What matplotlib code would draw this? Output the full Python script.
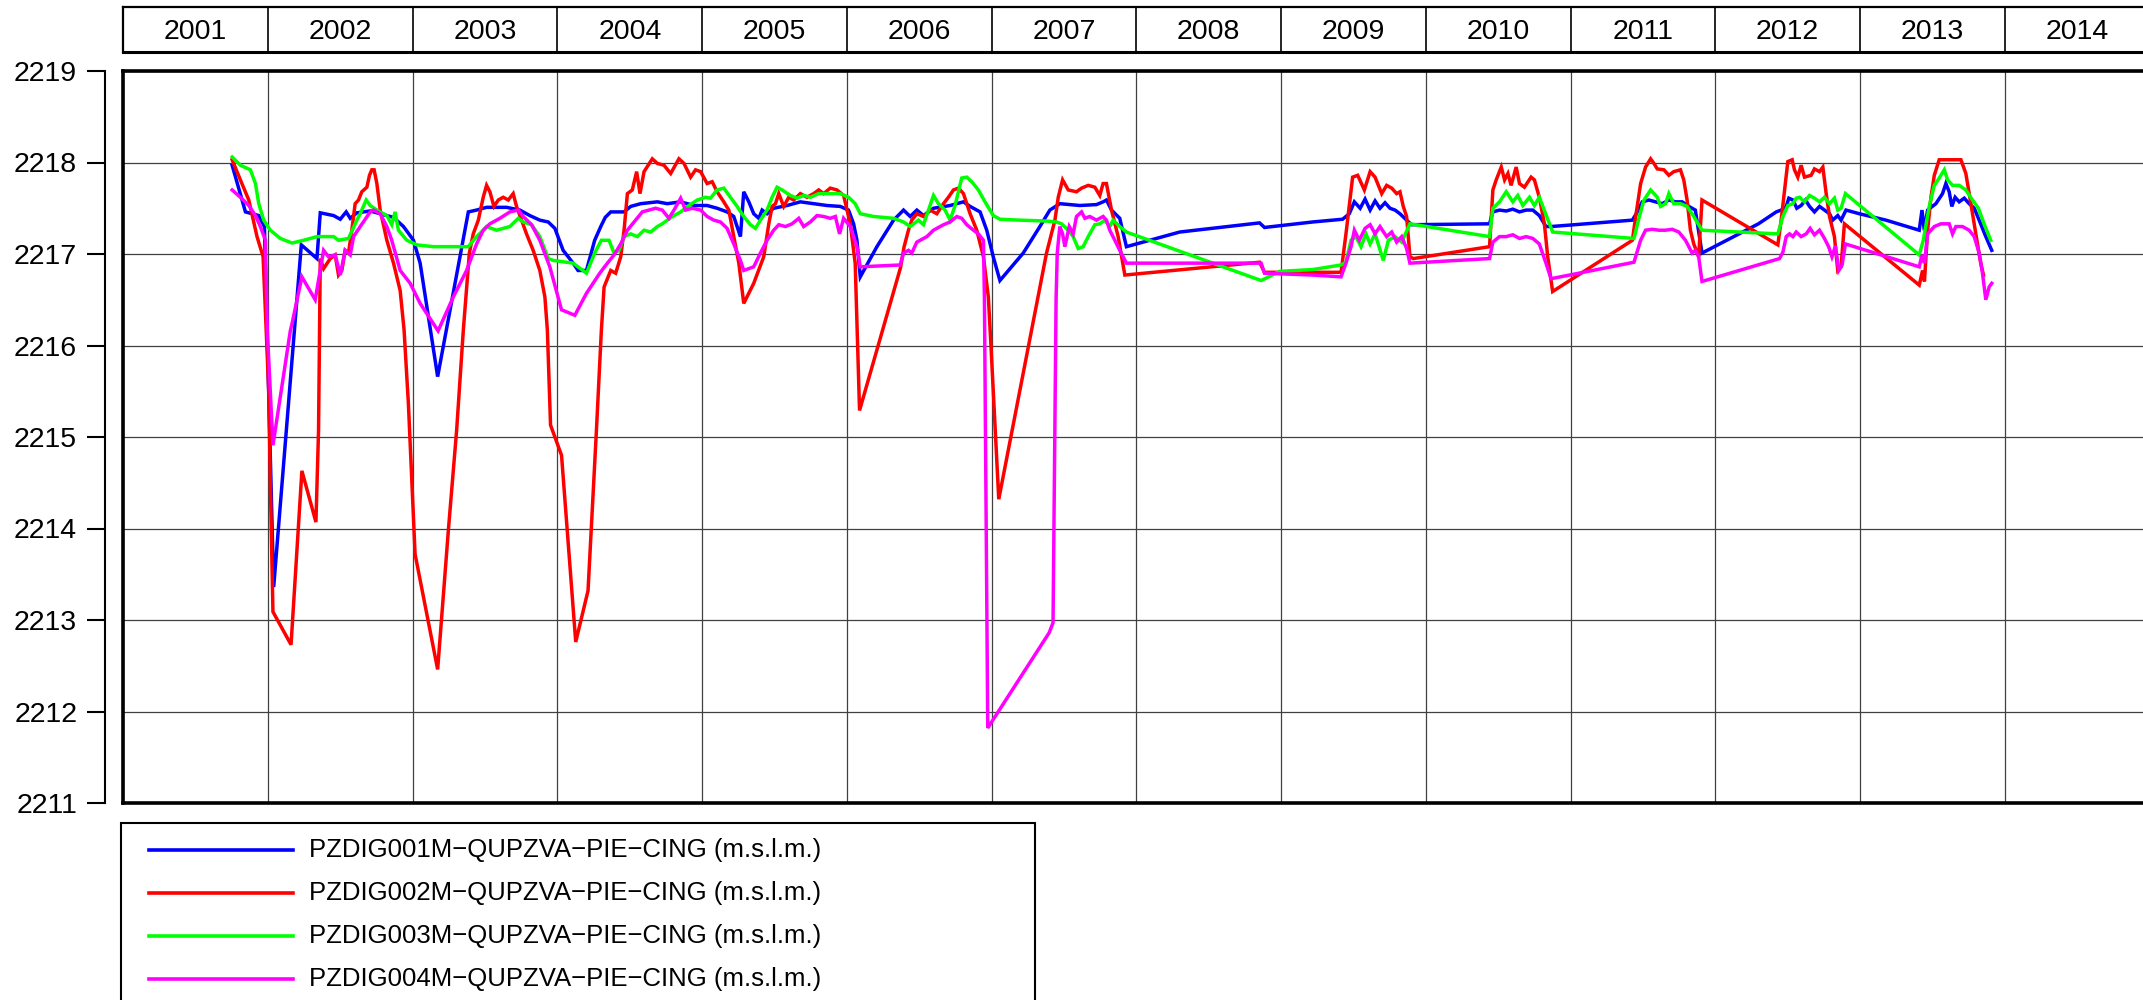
import matplotlib
matplotlib.use("Agg")
import matplotlib.pyplot as plt
from matplotlib.patches import Rectangle
from matplotlib.lines import Line2D

plt.rcParams['font.family'] = ['Liberation Sans', 'DejaVu Sans']

# ---------------- data (decimal year, m a.s.l.) ----------------
series_names = [
    "PZDIG001M\u2212QUPZVA\u2212PIE\u2212CING (m.s.l.m.)",
    "PZDIG002M\u2212QUPZVA\u2212PIE\u2212CING (m.s.l.m.)",
    "PZDIG003M\u2212QUPZVA\u2212PIE\u2212CING (m.s.l.m.)",
    "PZDIG004M\u2212QUPZVA\u2212PIE\u2212CING (m.s.l.m.)",
]
series_colors = ["#0000ff", "#ff0000", "#00ff00", "#ff00ff"]

pz001 = [
    (2001.752, 2217.97), (2001.844, 2217.46), (2001.936, 2217.42), (2001.975, 2217.30), (2002.039, 2213.36),
    (2002.230, 2217.10), (2002.338, 2216.95), (2002.361, 2217.45), (2002.453, 2217.42), (2002.499, 2217.38),
    (2002.540, 2217.46), (2002.568, 2217.39), (2002.614, 2217.45), (2002.706, 2217.47), (2002.775, 2217.44),
    (2002.867, 2217.40), (2002.936, 2217.30), (2003.005, 2217.15), (2003.051, 2216.90), (2003.172, 2215.66),
    (2003.384, 2217.46), (2003.441, 2217.48), (2003.510, 2217.51), (2003.648, 2217.51), (2003.740, 2217.48),
    (2003.809, 2217.42), (2003.878, 2217.37), (2003.936, 2217.35), (2003.982, 2217.28), (2004.039, 2217.04),
    (2004.108, 2216.90), (2004.142, 2216.82), (2004.200, 2216.82), (2004.257, 2217.15), (2004.299, 2217.30),
    (2004.330, 2217.40), (2004.368, 2217.46), (2004.460, 2217.46), (2004.506, 2217.52), (2004.575, 2217.55),
    (2004.690, 2217.57), (2004.759, 2217.55), (2004.851, 2217.57), (2004.943, 2217.53), (2005.034, 2217.53),
    (2005.103, 2217.50), (2005.172, 2217.46), (2005.218, 2217.41), (2005.264, 2217.19), (2005.287, 2217.68),
    (2005.322, 2217.57), (2005.356, 2217.44), (2005.391, 2217.39), (2005.414, 2217.48), (2005.448, 2217.44),
    (2005.494, 2217.50), (2005.586, 2217.53), (2005.678, 2217.57), (2005.770, 2217.55), (2005.862, 2217.53),
    (2005.954, 2217.52), (2006.011, 2217.48), (2006.046, 2217.33), (2006.069, 2217.15), (2006.092, 2216.75),
    (2006.207, 2217.08), (2006.322, 2217.37), (2006.391, 2217.48), (2006.437, 2217.41), (2006.483, 2217.48),
    (2006.529, 2217.42), (2006.598, 2217.50), (2006.713, 2217.53), (2006.805, 2217.57), (2006.851, 2217.52),
    (2006.920, 2217.46), (2006.966, 2217.26), (2007.011, 2216.97), (2007.057, 2216.71), (2007.218, 2217.01),
    (2007.333, 2217.30), (2007.402, 2217.48), (2007.471, 2217.55), (2007.609, 2217.53), (2007.724, 2217.54),
    (2007.770, 2217.57), (2007.793, 2217.59), (2007.828, 2217.48), (2007.885, 2217.39), (2007.931, 2217.08),
    (2008.299, 2217.24), (2008.851, 2217.34), (2008.885, 2217.29), (2009.218, 2217.35), (2009.425, 2217.38),
    (2009.471, 2217.44), (2009.506, 2217.57), (2009.546, 2217.50), (2009.580, 2217.60), (2009.615, 2217.48),
    (2009.649, 2217.58), (2009.683, 2217.50), (2009.718, 2217.56), (2009.752, 2217.50), (2009.787, 2217.48),
    (2009.821, 2217.44), (2009.867, 2217.37), (2009.901, 2217.32), (2010.440, 2217.33), (2010.463, 2217.46),
    (2010.509, 2217.48), (2010.555, 2217.47), (2010.601, 2217.49), (2010.647, 2217.46), (2010.693, 2217.48),
    (2010.739, 2217.48), (2010.784, 2217.42), (2010.830, 2217.30), (2010.865, 2217.30), (2011.427, 2217.37),
    (2011.461, 2217.46), (2011.495, 2217.57), (2011.541, 2217.59), (2011.587, 2217.57), (2011.633, 2217.55),
    (2011.679, 2217.59), (2011.725, 2217.57), (2011.771, 2217.57), (2011.817, 2217.52), (2011.862, 2217.48),
    (2011.908, 2217.01), (2012.298, 2217.33), (2012.421, 2217.46), (2012.455, 2217.48), (2012.490, 2217.52),
    (2012.508, 2217.61), (2012.536, 2217.59), (2012.563, 2217.50), (2012.593, 2217.53), (2012.623, 2217.59),
    (2012.651, 2217.52), (2012.685, 2217.46), (2012.720, 2217.52), (2012.754, 2217.48), (2012.789, 2217.44),
    (2012.811, 2217.37), (2012.846, 2217.42), (2012.869, 2217.37), (2012.903, 2217.48), (2012.995, 2217.44),
    (2013.179, 2217.37), (2013.409, 2217.26), (2013.428, 2217.48), (2013.444, 2217.26), (2013.467, 2217.48),
    (2013.524, 2217.55), (2013.570, 2217.66), (2013.593, 2217.77), (2013.616, 2217.68), (2013.634, 2217.52),
    (2013.657, 2217.62), (2013.685, 2217.57), (2013.720, 2217.61), (2013.754, 2217.55), (2013.789, 2217.50),
    (2013.823, 2217.37), (2013.869, 2217.19), (2013.910, 2217.04),
]

pz002 = [
    (2001.752, 2218.03), (2001.809, 2217.81), (2001.867, 2217.59), (2001.924, 2217.19), (2001.966, 2216.97),
    (2002.005, 2215.50), (2002.016, 2214.49), (2002.034, 2213.09), (2002.159, 2212.73), (2002.234, 2214.63),
    (2002.331, 2214.07), (2002.349, 2215.07), (2002.361, 2216.95), (2002.384, 2216.84), (2002.430, 2216.95),
    (2002.464, 2216.99), (2002.487, 2216.77), (2002.510, 2216.82), (2002.533, 2217.04), (2002.556, 2217.01),
    (2002.579, 2217.26), (2002.602, 2217.55), (2002.625, 2217.59), (2002.648, 2217.68), (2002.683, 2217.73),
    (2002.701, 2217.86), (2002.717, 2217.92), (2002.733, 2217.92), (2002.752, 2217.77), (2002.775, 2217.48),
    (2002.821, 2217.15), (2002.867, 2216.90), (2002.913, 2216.60), (2002.940, 2216.17), (2002.970, 2215.36),
    (2003.016, 2213.72), (2003.172, 2212.46), (2003.246, 2213.98), (2003.303, 2215.07), (2003.349, 2216.16),
    (2003.391, 2217.01), (2003.418, 2217.22), (2003.453, 2217.37), (2003.487, 2217.62), (2003.510, 2217.75),
    (2003.533, 2217.68), (2003.561, 2217.52), (2003.591, 2217.59), (2003.625, 2217.62), (2003.660, 2217.59),
    (2003.694, 2217.66), (2003.717, 2217.52), (2003.752, 2217.37), (2003.786, 2217.22), (2003.832, 2217.04),
    (2003.878, 2216.82), (2003.913, 2216.53), (2003.930, 2216.17), (2003.952, 2215.13), (2004.028, 2214.80),
    (2004.126, 2212.76), (2004.211, 2213.32), (2004.269, 2215.07), (2004.303, 2216.16), (2004.322, 2216.64),
    (2004.368, 2216.82), (2004.402, 2216.79), (2004.437, 2216.97), (2004.460, 2217.26), (2004.483, 2217.66),
    (2004.517, 2217.70), (2004.547, 2217.90), (2004.570, 2217.66), (2004.598, 2217.90), (2004.655, 2218.04),
    (2004.690, 2217.99), (2004.736, 2217.97), (2004.782, 2217.88), (2004.839, 2218.04), (2004.874, 2217.99),
    (2004.920, 2217.84), (2004.954, 2217.92), (2004.989, 2217.90), (2005.034, 2217.77), (2005.069, 2217.79),
    (2005.103, 2217.68), (2005.149, 2217.57), (2005.184, 2217.48), (2005.218, 2217.19), (2005.253, 2216.90),
    (2005.287, 2216.46), (2005.356, 2216.68), (2005.425, 2216.97), (2005.460, 2217.33), (2005.483, 2217.52),
    (2005.506, 2217.55), (2005.529, 2217.66), (2005.563, 2217.52), (2005.598, 2217.62), (2005.632, 2217.59),
    (2005.678, 2217.66), (2005.724, 2217.62), (2005.770, 2217.66), (2005.805, 2217.70), (2005.839, 2217.66),
    (2005.885, 2217.72), (2005.931, 2217.70), (2005.977, 2217.64), (2006.023, 2217.33), (2006.057, 2216.90),
    (2006.087, 2215.29), (2006.370, 2216.85), (2006.395, 2217.08), (2006.425, 2217.26), (2006.448, 2217.37),
    (2006.483, 2217.44), (2006.529, 2217.41), (2006.575, 2217.48), (2006.621, 2217.44), (2006.667, 2217.55),
    (2006.701, 2217.62), (2006.736, 2217.70), (2006.770, 2217.72), (2006.805, 2217.66), (2006.851, 2217.44),
    (2006.897, 2217.26), (2006.943, 2216.97), (2006.977, 2216.53), (2006.995, 2216.00), (2007.049, 2214.32),
    (2007.379, 2217.01), (2007.437, 2217.37), (2007.460, 2217.62), (2007.490, 2217.81), (2007.529, 2217.70),
    (2007.586, 2217.68), (2007.621, 2217.72), (2007.667, 2217.75), (2007.713, 2217.73), (2007.747, 2217.64),
    (2007.770, 2217.77), (2007.793, 2217.77), (2007.828, 2217.48), (2007.874, 2217.19), (2007.920, 2216.77),
    (2008.851, 2216.91), (2008.885, 2216.80), (2009.414, 2216.80), (2009.448, 2217.22), (2009.494, 2217.84),
    (2009.529, 2217.86), (2009.575, 2217.70), (2009.615, 2217.90), (2009.649, 2217.84), (2009.695, 2217.66),
    (2009.729, 2217.75), (2009.764, 2217.72), (2009.798, 2217.66), (2009.821, 2217.68), (2009.844, 2217.52),
    (2009.867, 2217.41), (2009.890, 2216.97), (2009.913, 2216.95), (2010.440, 2217.08), (2010.463, 2217.70),
    (2010.486, 2217.81), (2010.521, 2217.95), (2010.544, 2217.81), (2010.567, 2217.88), (2010.589, 2217.75),
    (2010.624, 2217.95), (2010.647, 2217.77), (2010.681, 2217.73), (2010.727, 2217.84), (2010.750, 2217.81),
    (2010.784, 2217.62), (2010.819, 2217.33), (2010.842, 2216.97), (2010.876, 2216.59), (2011.427, 2217.15),
    (2011.450, 2217.41), (2011.484, 2217.77), (2011.518, 2217.95), (2011.553, 2218.04), (2011.576, 2217.99),
    (2011.599, 2217.93), (2011.645, 2217.92), (2011.679, 2217.86), (2011.713, 2217.90), (2011.759, 2217.92),
    (2011.782, 2217.81), (2011.805, 2217.59), (2011.828, 2217.26), (2011.851, 2217.11), (2011.885, 2216.97),
    (2011.908, 2217.59), (2012.432, 2217.10), (2012.455, 2217.37), (2012.479, 2217.70), (2012.501, 2218.01),
    (2012.531, 2218.03), (2012.547, 2217.92), (2012.570, 2217.84), (2012.593, 2217.97), (2012.616, 2217.84),
    (2012.662, 2217.86), (2012.685, 2217.93), (2012.720, 2217.90), (2012.743, 2217.95), (2012.766, 2217.66),
    (2012.789, 2217.41), (2012.823, 2217.19), (2012.846, 2216.82), (2012.869, 2216.86), (2012.892, 2217.33),
    (2013.409, 2216.66), (2013.432, 2216.82), (2013.445, 2216.70), (2013.467, 2217.26), (2013.490, 2217.62),
    (2013.513, 2217.86), (2013.547, 2218.03), (2013.697, 2218.03), (2013.731, 2217.88), (2013.766, 2217.55),
    (2013.800, 2217.22), (2013.834, 2216.90), (2013.853, 2216.77),
]

pz003 = [
    (2001.752, 2218.06), (2001.809, 2217.97), (2001.878, 2217.92), (2001.913, 2217.77), (2001.936, 2217.55),
    (2001.970, 2217.37), (2002.016, 2217.26), (2002.085, 2217.17), (2002.166, 2217.12), (2002.246, 2217.15),
    (2002.338, 2217.19), (2002.453, 2217.19), (2002.487, 2217.15), (2002.556, 2217.17), (2002.614, 2217.37),
    (2002.637, 2217.44), (2002.678, 2217.59), (2002.706, 2217.53), (2002.752, 2217.48), (2002.821, 2217.42),
    (2002.855, 2217.32), (2002.878, 2217.46), (2002.901, 2217.26), (2002.959, 2217.15), (2003.028, 2217.10),
    (2003.143, 2217.08), (2003.280, 2217.08), (2003.384, 2217.08), (2003.441, 2217.19), (2003.487, 2217.26),
    (2003.510, 2217.30), (2003.579, 2217.26), (2003.671, 2217.30), (2003.729, 2217.39), (2003.763, 2217.35),
    (2003.821, 2217.32), (2003.878, 2217.19), (2003.936, 2216.95), (2003.970, 2216.93), (2004.108, 2216.90),
    (2004.200, 2216.79), (2004.257, 2217.01), (2004.303, 2217.15), (2004.356, 2217.15), (2004.391, 2217.01),
    (2004.425, 2217.04), (2004.460, 2217.19), (2004.506, 2217.22), (2004.552, 2217.19), (2004.598, 2217.26),
    (2004.644, 2217.24), (2004.690, 2217.30), (2004.724, 2217.33), (2004.759, 2217.37), (2004.805, 2217.42),
    (2004.851, 2217.46), (2004.908, 2217.53), (2004.966, 2217.59), (2005.023, 2217.62), (2005.057, 2217.61),
    (2005.103, 2217.70), (2005.149, 2217.72), (2005.195, 2217.62), (2005.241, 2217.52), (2005.287, 2217.41),
    (2005.333, 2217.32), (2005.368, 2217.28), (2005.402, 2217.37), (2005.448, 2217.48), (2005.483, 2217.62),
    (2005.517, 2217.73), (2005.552, 2217.70), (2005.609, 2217.64), (2005.655, 2217.61), (2005.701, 2217.64),
    (2005.747, 2217.62), (2005.805, 2217.66), (2005.862, 2217.66), (2005.954, 2217.66), (2006.011, 2217.62),
    (2006.057, 2217.55), (2006.092, 2217.44), (2006.184, 2217.41), (2006.322, 2217.39), (2006.391, 2217.35),
    (2006.437, 2217.30), (2006.494, 2217.37), (2006.529, 2217.32), (2006.598, 2217.64), (2006.632, 2217.55),
    (2006.678, 2217.48), (2006.713, 2217.37), (2006.747, 2217.53), (2006.770, 2217.68), (2006.793, 2217.83),
    (2006.828, 2217.84), (2006.862, 2217.79), (2006.908, 2217.70), (2006.954, 2217.57), (2007.011, 2217.42),
    (2007.057, 2217.38), (2007.195, 2217.37), (2007.379, 2217.36), (2007.448, 2217.35), (2007.483, 2217.33),
    (2007.529, 2217.26), (2007.563, 2217.19), (2007.598, 2217.06), (2007.632, 2217.08), (2007.667, 2217.19),
    (2007.713, 2217.32), (2007.747, 2217.33), (2007.782, 2217.37), (2007.816, 2217.30), (2007.839, 2217.37),
    (2007.885, 2217.30), (2007.931, 2217.24), (2008.862, 2216.71), (2008.989, 2216.81), (2009.218, 2216.83),
    (2009.414, 2216.88), (2009.448, 2216.91), (2009.483, 2217.15), (2009.517, 2217.19), (2009.552, 2217.08),
    (2009.586, 2217.22), (2009.615, 2217.11), (2009.649, 2217.22), (2009.706, 2216.93), (2009.741, 2217.15),
    (2009.787, 2217.19), (2009.833, 2217.13), (2009.890, 2217.33), (2010.440, 2217.19), (2010.463, 2217.50),
    (2010.509, 2217.57), (2010.555, 2217.68), (2010.601, 2217.57), (2010.635, 2217.64), (2010.670, 2217.53),
    (2010.716, 2217.62), (2010.750, 2217.53), (2010.784, 2217.62), (2010.876, 2217.24), (2011.438, 2217.17),
    (2011.472, 2217.39), (2011.507, 2217.59), (2011.553, 2217.70), (2011.599, 2217.62), (2011.622, 2217.52),
    (2011.656, 2217.55), (2011.679, 2217.66), (2011.713, 2217.55), (2011.759, 2217.55), (2011.805, 2217.52),
    (2011.839, 2217.44), (2011.908, 2217.26), (2012.432, 2217.22), (2012.467, 2217.41), (2012.501, 2217.53),
    (2012.536, 2217.55), (2012.559, 2217.61), (2012.582, 2217.62), (2012.616, 2217.57), (2012.651, 2217.64),
    (2012.685, 2217.61), (2012.720, 2217.57), (2012.754, 2217.62), (2012.789, 2217.55), (2012.823, 2217.61),
    (2012.846, 2217.48), (2012.869, 2217.50), (2012.899, 2217.66), (2013.409, 2216.99), (2013.437, 2217.15),
    (2013.478, 2217.52), (2013.513, 2217.75), (2013.547, 2217.83), (2013.582, 2217.92), (2013.605, 2217.81),
    (2013.639, 2217.75), (2013.685, 2217.75), (2013.731, 2217.70), (2013.777, 2217.59), (2013.818, 2217.50),
    (2013.857, 2217.33), (2013.903, 2217.15),
]

pz004 = [
    (2001.752, 2217.70), (2001.809, 2217.62), (2001.867, 2217.53), (2001.913, 2217.42), (2001.947, 2217.30),
    (2001.982, 2217.15), (2001.995, 2216.16), (2002.034, 2214.91), (2002.154, 2216.16), (2002.166, 2216.24),
    (2002.234, 2216.75), (2002.326, 2216.50), (2002.384, 2217.04), (2002.418, 2216.97), (2002.464, 2216.99),
    (2002.499, 2216.77), (2002.533, 2217.04), (2002.568, 2216.99), (2002.591, 2217.19), (2002.637, 2217.30),
    (2002.706, 2217.46), (2002.729, 2217.48), (2002.775, 2217.44), (2002.821, 2217.30), (2002.855, 2217.15),
    (2002.913, 2216.82), (2002.982, 2216.68), (2003.051, 2216.46), (2003.175, 2216.16), (2003.280, 2216.53),
    (2003.372, 2216.82), (2003.441, 2217.11), (2003.487, 2217.26), (2003.533, 2217.33), (2003.602, 2217.39),
    (2003.671, 2217.46), (2003.729, 2217.48), (2003.763, 2217.41), (2003.821, 2217.32), (2003.878, 2217.15),
    (2003.947, 2216.86), (2004.028, 2216.39), (2004.120, 2216.33), (2004.200, 2216.57), (2004.292, 2216.79),
    (2004.345, 2216.90), (2004.391, 2216.99), (2004.437, 2217.11), (2004.483, 2217.26), (2004.529, 2217.35),
    (2004.586, 2217.46), (2004.632, 2217.48), (2004.678, 2217.50), (2004.724, 2217.48), (2004.770, 2217.39),
    (2004.805, 2217.48), (2004.851, 2217.61), (2004.885, 2217.48), (2004.931, 2217.50), (2004.989, 2217.48),
    (2005.034, 2217.41), (2005.080, 2217.37), (2005.126, 2217.35), (2005.172, 2217.28), (2005.218, 2217.11),
    (2005.264, 2216.93), (2005.287, 2216.82), (2005.356, 2216.86), (2005.402, 2217.01), (2005.448, 2217.15),
    (2005.494, 2217.26), (2005.529, 2217.32), (2005.575, 2217.30), (2005.621, 2217.33), (2005.667, 2217.39),
    (2005.701, 2217.30), (2005.747, 2217.35), (2005.793, 2217.42), (2005.839, 2217.41), (2005.885, 2217.39),
    (2005.920, 2217.41), (2005.949, 2217.22), (2005.977, 2217.39), (2006.023, 2217.30), (2006.069, 2217.08),
    (2006.092, 2216.86), (2006.368, 2216.88), (2006.391, 2217.01), (2006.425, 2217.04), (2006.448, 2217.01),
    (2006.483, 2217.13), (2006.552, 2217.19), (2006.598, 2217.26), (2006.667, 2217.32), (2006.713, 2217.35),
    (2006.759, 2217.41), (2006.793, 2217.39), (2006.828, 2217.32), (2006.874, 2217.26), (2006.908, 2217.22),
    (2006.943, 2217.15), (2006.950, 2216.50), (2006.973, 2211.82), (2007.397, 2212.86), (2007.424, 2212.97),
    (2007.445, 2216.50), (2007.453, 2217.01), (2007.471, 2217.30), (2007.490, 2217.22), (2007.506, 2217.08),
    (2007.536, 2217.30), (2007.563, 2217.22), (2007.586, 2217.41), (2007.621, 2217.46), (2007.644, 2217.39),
    (2007.678, 2217.41), (2007.724, 2217.37), (2007.770, 2217.41), (2007.793, 2217.37), (2007.816, 2217.26),
    (2007.851, 2217.15), (2007.885, 2217.04), (2007.931, 2216.90), (2008.862, 2216.90), (2008.885, 2216.79),
    (2009.218, 2216.77), (2009.414, 2216.75), (2009.448, 2216.90), (2009.483, 2217.08), (2009.506, 2217.26),
    (2009.540, 2217.15), (2009.580, 2217.28), (2009.615, 2217.32), (2009.649, 2217.22), (2009.683, 2217.30),
    (2009.729, 2217.19), (2009.764, 2217.24), (2009.798, 2217.13), (2009.833, 2217.19), (2009.867, 2217.06),
    (2009.890, 2216.90), (2010.440, 2216.95), (2010.463, 2217.13), (2010.509, 2217.19), (2010.555, 2217.19),
    (2010.601, 2217.21), (2010.647, 2217.17), (2010.693, 2217.19), (2010.739, 2217.17), (2010.784, 2217.11),
    (2010.830, 2216.90), (2010.865, 2216.73), (2011.438, 2216.91), (2011.484, 2217.15), (2011.518, 2217.26),
    (2011.564, 2217.27), (2011.610, 2217.26), (2011.656, 2217.26), (2011.702, 2217.27), (2011.748, 2217.24),
    (2011.794, 2217.15), (2011.817, 2217.08), (2011.839, 2217.01), (2011.862, 2217.04), (2011.885, 2216.97),
    (2011.908, 2216.70), (2012.444, 2216.95), (2012.467, 2217.02), (2012.490, 2217.19), (2012.513, 2217.22),
    (2012.536, 2217.19), (2012.559, 2217.24), (2012.593, 2217.19), (2012.628, 2217.22), (2012.655, 2217.28),
    (2012.685, 2217.21), (2012.720, 2217.26), (2012.754, 2217.17), (2012.783, 2217.08), (2012.806, 2216.97),
    (2012.830, 2217.09), (2012.853, 2216.82), (2012.876, 2216.88), (2012.899, 2217.11), (2013.409, 2216.86),
    (2013.428, 2216.99), (2013.445, 2216.90), (2013.467, 2217.22), (2013.513, 2217.30), (2013.559, 2217.33),
    (2013.616, 2217.33), (2013.639, 2217.22), (2013.662, 2217.30), (2013.708, 2217.30), (2013.754, 2217.26),
    (2013.789, 2217.19), (2013.823, 2217.01), (2013.846, 2216.79), (2013.869, 2216.50), (2013.892, 2216.64),
    (2013.910, 2216.68),
]

years = list(range(2001, 2015))          # year band labels
y_ticks = list(range(2211, 2220))        # y tick values
x_start, x_end = 2001, 2015
y_min, y_max = 2211, 2219

# ---------------- layout helpers (pixels -> figure fraction) ----------------
W, H = 2143, 1000
fig = plt.figure(figsize=(W / 100, H / 100), dpi=100)
fig.patch.set_facecolor('white')


def fx(px):
    return px / W


def fy(py):
    return 1 - py / H


ax_left_px, ax_right_px = 123.3, 2149.5
ax_top_px, ax_bot_px = 71, 803

# main plotting axes
ax = fig.add_axes([fx(ax_left_px), fy(ax_bot_px),
                   (ax_right_px - ax_left_px) / W, (ax_bot_px - ax_top_px) / H])
ax.set_xlim(x_start, x_end)
ax.set_ylim(y_min, y_max)
ax.set_xticks(range(x_start, x_end + 1))
ax.set_yticks(y_ticks)
ax.tick_params(length=0, labelbottom=False, labelleft=False)
ax.grid(True, color='#404040', lw=0.9)
ax.set_axisbelow(True)
for s in ax.spines.values():
    s.set_linewidth(2.6)
    s.set_color('black')

for data, col in zip([pz001, pz002, pz003, pz004], series_colors):
    xs = [p[0] for p in data]
    ys = [p[1] for p in data]
    ax.plot(xs, ys, color=col, lw=2.5, solid_joinstyle='miter', zorder=3)

# offset y axis with ticks and labels
ay = fig.add_axes([fx(105), fy(ax_bot_px), 0.0004, (ax_bot_px - ax_top_px) / H])
ay.set_ylim(y_min, y_max)
ay.set_yticks(y_ticks)
ay.set_yticklabels([str(v) for v in y_ticks])
ay.set_xticks([])
ay.patch.set_visible(False)
for k in ['top', 'right', 'bottom']:
    ay.spines[k].set_visible(False)
ay.spines['left'].set_linewidth(1.5)
ay.tick_params(axis='y', length=13, width=1.5, pad=7, labelsize=20.5)

# year band on top
at = fig.add_axes([fx(ax_left_px), fy(52.3), (ax_right_px - ax_left_px) / W, 45 / H])
at.set_xlim(x_start, x_end)
at.set_ylim(0, 1)
at.set_xticks([])
at.set_yticks([])
for s in at.spines.values():
    s.set_linewidth(1.6)
at.spines['bottom'].set_linewidth(2.2)
for yr in years[1:]:
    at.axvline(yr, color='black', lw=1.2)
for yr in years:
    at.text(yr + 0.5, 0.46, str(yr), ha='center', va='center', fontsize=20.5)

# legend box (bottom-left)
fig.patches.append(Rectangle((fx(121), fy(1010)), (1035 - 121) / W, (1010 - 823) / H,
                             transform=fig.transFigure, fill=False, lw=1.5, ec='black'))
for i, (name, col) in enumerate(zip(series_names, series_colors)):
    yy = 850 + 43 * i
    fig.add_artist(Line2D([fx(149), fx(293)], [fy(yy), fy(yy)], transform=fig.transFigure,
                          color=col, lw=2.6))
    fig.text(fx(309), fy(yy), name, ha='left', va='center', fontsize=18.5)

fig.savefig('out.png', dpi=100)
